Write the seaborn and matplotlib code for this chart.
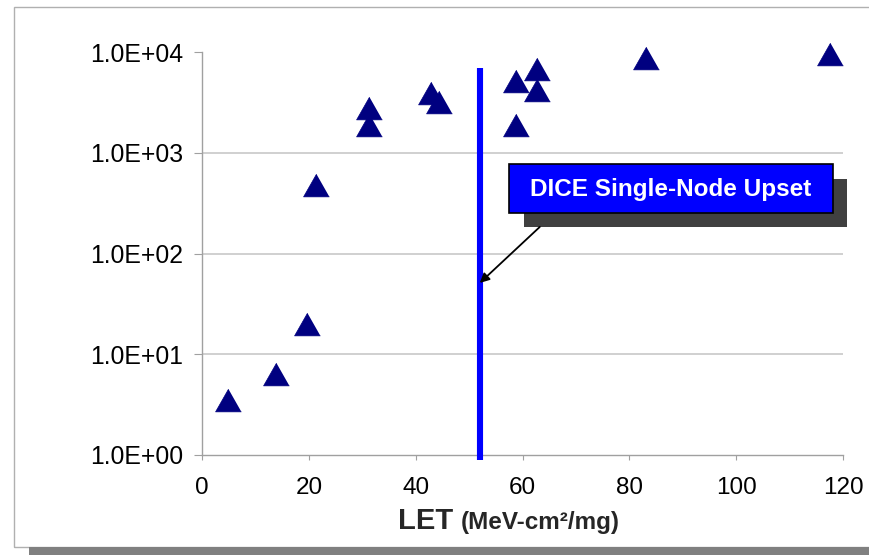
import matplotlib
matplotlib.use("Agg")
import matplotlib.pyplot as plt
from matplotlib.patches import Rectangle
from matplotlib.ticker import FixedLocator, FixedFormatter, NullLocator
import seaborn as sns
import pandas as pd

# Measured upset cross-sections vs. LET
let_values = [4.8, 13.9, 19.7, 21.4, 31.3, 31.3, 42.8, 44.3, 58.8, 58.8, 62.7, 62.7, 83.1, 117.6]
cross_section = [3.5, 6.4, 19.8, 475, 2780, 1880, 3940, 3220, 5210, 1900, 6740, 4200, 8720, 9510]

# DICE single-node upset threshold
threshold_let = 52.0
threshold_span = [0.9, 7000]
arrow_target = 51.0

y_ticks = [1, 10, 100, 1000, 10000]
y_tick_labels = ["1.0E+00", "1.0E+01", "1.0E+02", "1.0E+03", "1.0E+04"]
x_ticks = [0, 20, 40, 60, 80, 100, 120]
x_tick_labels = ["0", "20", "40", "60", "80", "100", "120"]

sns.set_theme(style="white")
plt.rcParams["font.family"] = ["Liberation Sans", "DejaVu Sans"]

df = pd.DataFrame({"LET": let_values, "xs": cross_section})

fig = plt.figure(figsize=(8.69, 5.55), dpi=100)
fig.patch.set_facecolor("white")
ax = fig.add_axes([202 / 869, 1 - 455 / 555, 641 / 869, 403 / 555])

# outer chart frame and drop shadow
fig.patches.append(Rectangle((14 / 869, 1 - 547 / 555), 1.0, 540 / 555,
                             transform=fig.transFigure, fill=False,
                             edgecolor="#b0b0b0", lw=1.0))
fig.patches.append(Rectangle((29 / 869, 0), 1.0, 8 / 555,
                             transform=fig.transFigure, facecolor="#808080",
                             edgecolor="none"))

tri = [(0, 0.88), (-1, -0.88), (1, -0.88)]
sns.scatterplot(data=df, x="LET", y="xs", ax=ax, marker=tri, s=345,
                color="#000080", edgecolor="#000080", linewidth=0.5,
                zorder=4, clip_on=False, legend=False)

ax.set_yscale("log")
ax.set_xlim(0, 120)
ax.set_ylim(1, 10000)

ax.plot([threshold_let, threshold_let], threshold_span, color="#0000ff",
        lw=4.4, solid_capstyle="butt", clip_on=False, zorder=3)

ax.yaxis.set_major_locator(FixedLocator(y_ticks))
ax.yaxis.set_major_formatter(FixedFormatter(y_tick_labels))
ax.yaxis.set_minor_locator(NullLocator())
ax.xaxis.set_major_locator(FixedLocator(x_ticks))
ax.xaxis.set_major_formatter(FixedFormatter(x_tick_labels))

ax.tick_params(axis="y", which="major", direction="out", length=5.5, width=0.8,
               color="#a0a0a0", pad=8, labelsize=17.8, labelcolor="black", left=True)
ax.tick_params(axis="x", which="major", direction="out", length=3.6, width=0.8,
               color="#a0a0a0", pad=12, labelsize=17.5, labelcolor="black", bottom=True)

ax.grid(axis="y", color="#c8c8c8", lw=1.2)
ax.grid(axis="x", visible=False)
ax.set_axisbelow(True)
for gl, t in zip(ax.yaxis.get_gridlines(), y_ticks):
    if t in (1, 10000):
        gl.set_visible(False)

for side in ("top", "right"):
    ax.spines[side].set_visible(False)
for side in ("left", "bottom"):
    ax.spines[side].set_color("#a0a0a0")
    ax.spines[side].set_linewidth(1.0)

ax.set_xlabel("")
ax.set_ylabel("")
fig.text(398 / 869, 1 - 529 / 555, "LET", fontsize=21, fontweight="bold",
         ha="left", va="baseline")
fig.text(461 / 869, 1 - 529 / 555, "(MeV-cm\u00b2/mg)", fontsize=17.5,
         fontweight="bold", ha="left", va="baseline")

# callout box with shadow
ax.add_patch(Rectangle((0.502, 0.566), 0.504, 0.119, transform=ax.transAxes,
                       facecolor="#404040", edgecolor="none", zorder=5,
                       clip_on=False))
ax.add_patch(Rectangle((0.479, 0.6005), 0.505, 0.1215, transform=ax.transAxes,
                       facecolor="#0000ff", edgecolor="black", lw=1.2, zorder=6,
                       clip_on=False))
ax.text(0.7315, 0.659, "DICE Single-Node Upset", transform=ax.transAxes,
        color="white", fontsize=17.5, fontweight="bold", ha="center",
        va="center", zorder=7)

ax.annotate("", xy=(threshold_let, arrow_target), xycoords="data",
            xytext=(0.527, 0.566), textcoords="axes fraction",
            arrowprops=dict(arrowstyle="-|>", color="black", lw=1.3,
                            mutation_scale=14, shrinkA=0, shrinkB=0),
            zorder=6)

fig.savefig("out.png", dpi=100, facecolor="white")
